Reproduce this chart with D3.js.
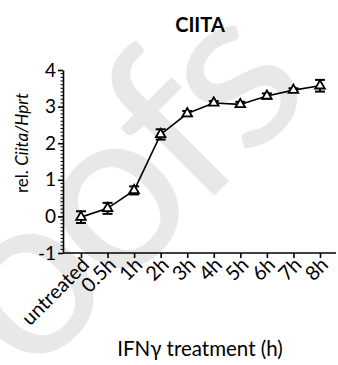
<!DOCTYPE html>
<html>
<head>
<meta charset="utf-8">
<script src="https://cdn.jsdelivr.net/npm/d3@7"></script>
<style>
  body { margin: 0; background: #fff; }
  svg { display: block; font-family: Lato, "Open Sans", sans-serif; }
</style>
</head>
<body>
<svg id="chart" width="338" height="365"></svg>
<script>
// time points and CIITA expression (mean, sem)
const timepoints = ["untreated", "0.5h", "1h", "2h", "3h", "4h", "5h", "6h", "7h", "8h"];
const ciitaMean = [-0.02, 0.22, 0.71, 2.24, 2.81, 3.1, 3.06, 3.29, 3.45, 3.57];
const ciitaErr = [0.16, 0.15, 0.11, 0.14, 0.07, 0.05, 0.07, 0.07, 0.05, 0.16];
const yTicks = [-1, 0, 1, 2, 3, 4];

const svg = d3.select("#chart");
const plotLeft = 63, plotRight = 336, plotTop = 70, plotBottom = 253;

const data = timepoints.map((t, i) => ({ t, v: ciitaMean[i], e: ciitaErr[i] }));

const x = d3.scalePoint().domain(timepoints).range([81, 320]);
const y = d3.scaleLinear().domain([-1, 4]).range([plotBottom, plotTop]);

// faint watermark behind the chart
svg.append("text")
  .attr("transform", "translate(29,381) rotate(-45)")
  .attr("font-size", 230)
  .attr("letter-spacing", -10)
  .attr("fill", "#e8e8e8")
  .text("oofs");

// title
svg.append("text")
  .attr("x", 200).attr("y", 32)
  .attr("text-anchor", "middle")
  .attr("font-size", 20).attr("font-weight", "bold")
  .text("CIITA");

// y axis with minor ticks
const yAxis = d3.axisLeft(y).tickValues(yTicks).tickFormat(d => String(d))
  .tickSize(5).tickSizeOuter(0).tickPadding(2);
const gy = svg.append("g").attr("transform", `translate(${plotLeft},0)`).call(yAxis);
gy.selectAll(".tick text").attr("font-size", 19).attr("font-family", "Lato, sans-serif");
gy.selectAll("line, path").attr("stroke", "#000").attr("stroke-width", 1.6);
const minor = d3.range(-1, 4.001, 0.1).filter(v => Math.abs(v - Math.round(v)) > 0.01);
svg.append("g").attr("transform", `translate(${plotLeft},0)`)
  .selectAll("line").data(minor).join("line")
  .attr("x1", -2.5).attr("x2", 0)
  .attr("y1", d => y(d)).attr("y2", d => y(d))
  .attr("stroke", "#000").attr("stroke-width", 1);

// x axis
const xAxis = d3.axisBottom(x).tickSize(5).tickSizeOuter(0).tickFormat("");
const gx = svg.append("g").attr("transform", `translate(0,${plotBottom})`).call(xAxis);
gx.select(".domain").attr("d", `M${plotLeft},0H${plotRight}`);
gx.selectAll("line, path").attr("stroke", "#000").attr("stroke-width", 1.6);
gx.selectAll(".tick").append("text")
  .attr("fill", "#000")
  .attr("font-size", 20)
  .attr("font-family", "Lato, sans-serif")
  .attr("text-anchor", "end")
  .attr("transform", "translate(9,13) rotate(-45)")
  .text(d => d);

// axis labels
svg.append("text")
  .attr("transform", "translate(28,143) rotate(-90)")
  .attr("text-anchor", "middle")
  .attr("font-size", 17)
  .call(t => {
    t.append("tspan").text("rel. ");
    t.append("tspan").attr("font-style", "italic").text("Ciita/Hprt");
  });

svg.append("text")
  .attr("x", 200).attr("y", 356)
  .attr("text-anchor", "middle")
  .attr("font-size", 20.5)
  .text("IFNγ treatment (h)");

// line
svg.append("path")
  .datum(data)
  .attr("fill", "none").attr("stroke", "#000").attr("stroke-width", 1.6)
  .attr("d", d3.line().x(d => x(d.t)).y(d => y(d.v)));

// error bars
const eb = svg.append("g").selectAll("g").data(data).join("g")
  .attr("stroke", "#000").attr("stroke-width", 2);
eb.append("line")
  .attr("x1", d => x(d.t)).attr("x2", d => x(d.t))
  .attr("y1", d => y(d.v - d.e)).attr("y2", d => y(d.v + d.e));
eb.append("line")
  .attr("x1", d => x(d.t) - 5).attr("x2", d => x(d.t) + 5)
  .attr("y1", d => y(d.v + d.e)).attr("y2", d => y(d.v + d.e));
eb.append("line")
  .attr("x1", d => x(d.t) - 5).attr("x2", d => x(d.t) + 5)
  .attr("y1", d => y(d.v - d.e)).attr("y2", d => y(d.v - d.e));

// open triangle markers
svg.append("g").selectAll("path").data(data).join("path")
  .attr("transform", d => `translate(${x(d.t)},${y(d.v)})`)
  .attr("d", d3.symbol(d3.symbolTriangle, 40))
  .attr("fill", "#fff").attr("stroke", "#000").attr("stroke-width", 1.8);
</script>
</body>
</html>
